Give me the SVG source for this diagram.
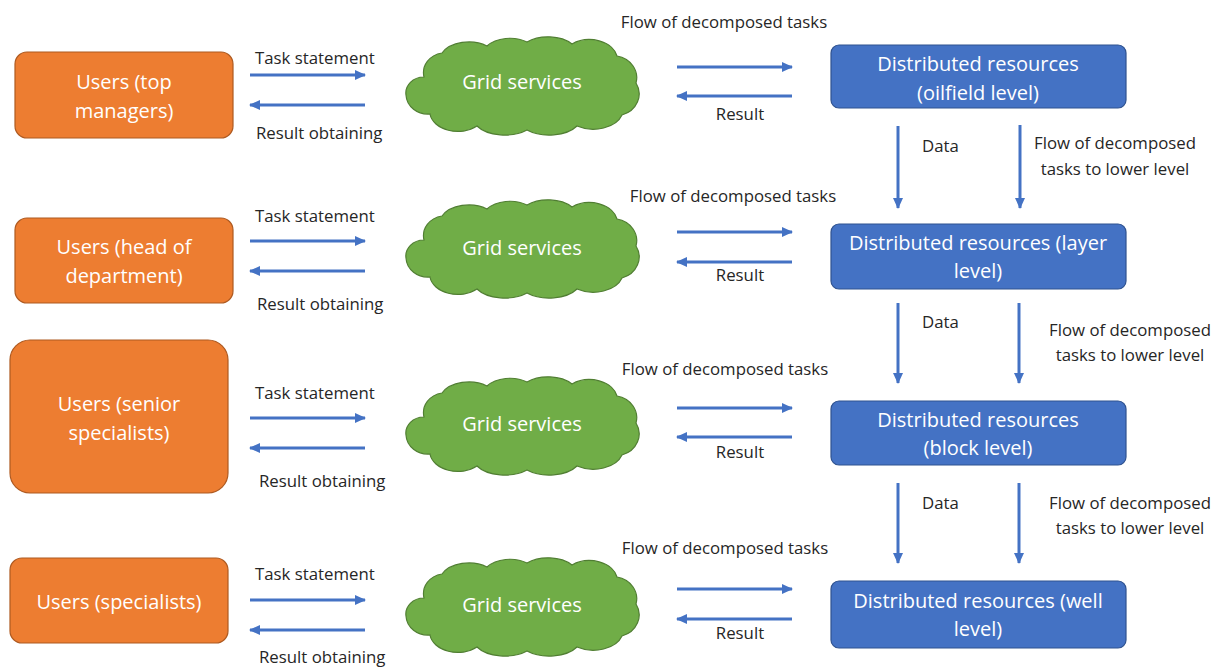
<svg xmlns="http://www.w3.org/2000/svg" width="1228" height="668" viewBox="0 0 1228 668">
<style>
.user{fill:#ED7D31;stroke:#AE5A21;stroke-width:1.2}
.res{fill:#4472C4;stroke:#2F528F;stroke-width:1.2}
.cloud{fill:#70AD47;stroke:#507E32;stroke-width:1.2}
.bt{font-family:"Open Sans","Liberation Sans",sans-serif;font-size:20px;fill:#FFFFFF;text-anchor:middle}
.lb{font-family:"Open Sans","Liberation Sans",sans-serif;font-size:16.8px;fill:#262626}
.mid{text-anchor:middle}
.ar{stroke:#4472C4;stroke-width:3;fill:none;marker-end:url(#ah)}
</style>
<defs>
<marker id="ah" markerUnits="userSpaceOnUse" markerWidth="12" markerHeight="12" refX="10" refY="5" orient="auto" viewBox="0 0 12 10">
<path d="M0,0 L11,5 L0,10 Z" fill="#4472C4"/>
</marker>
<path id="cl" d="M -98,-8 A 22,20 0 0 1 -80,-32 A 30,20 0 0 1 -35,-39 A 28,18 0 0 1 5,-43 A 30,18 0 0 1 50,-41 A 28,20 0 0 1 95,-29 A 24,22 0 0 1 114,-2 A 24,22 0 0 1 100,30 A 30,20 0 0 1 55,41 A 32,18 0 0 1 5,45 A 32,18 0 0 1 -45,41 A 28,20 0 0 1 -92,29 A 22,20 0 0 1 -116,10 A 18,16 0 0 1 -98,-8 Z"/>
</defs>

<g id="users-top">
<rect class="user" x="15" y="52" width="218" height="86" rx="12"/>
<text class="bt" x="124" y="89">Users (top</text>
<text class="bt" x="124" y="118">managers)</text>
</g>
<g id="users-head">
<rect class="user" x="15" y="218" width="218" height="85" rx="12"/>
<text class="bt" x="124" y="254">Users (head of</text>
<text class="bt" x="124" y="283">department)</text>
</g>
<g id="users-senior">
<rect class="user" x="10" y="340" width="218" height="153" rx="20"/>
<text class="bt" x="119" y="411">Users (senior</text>
<text class="bt" x="119" y="440">specialists)</text>
</g>
<g id="users-spec">
<rect class="user" x="10" y="558" width="218" height="85" rx="12"/>
<text class="bt" x="119" y="609">Users (specialists)</text>
</g>

<g id="grid-1"><use href="#cl" class="cloud" transform="translate(522,85)"/><text class="bt" x="522" y="89">Grid services</text></g>
<g id="grid-2"><use href="#cl" class="cloud" transform="translate(522,248)"/><text class="bt" x="522" y="255">Grid services</text></g>
<g id="grid-3"><use href="#cl" class="cloud" transform="translate(522,425)"/><text class="bt" x="522" y="431">Grid services</text></g>
<g id="grid-4"><use href="#cl" class="cloud" transform="translate(522,606)"/><text class="bt" x="522" y="612">Grid services</text></g>

<g id="res-oilfield">
<rect class="res" x="831" y="45" width="295" height="63" rx="8"/>
<text class="bt" x="978" y="71">Distributed resources</text>
<text class="bt" x="978" y="100">(oilfield level)</text>
</g>
<g id="res-layer">
<rect class="res" x="831" y="224" width="295" height="65" rx="8"/>
<text class="bt" x="978" y="250">Distributed resources (layer</text>
<text class="bt" x="978" y="278">level)</text>
</g>
<g id="res-block">
<rect class="res" x="831" y="401" width="295" height="64" rx="8"/>
<text class="bt" x="978" y="427">Distributed resources</text>
<text class="bt" x="978" y="455">(block level)</text>
</g>
<g id="res-well">
<rect class="res" x="831" y="581" width="295" height="67" rx="8"/>
<text class="bt" x="978" y="608">Distributed resources (well</text>
<text class="bt" x="978" y="636">level)</text>
</g>

<g id="connectors">
<line class="ar" x1="250" y1="75" x2="365" y2="75"/>
<line class="ar" x1="365" y1="105" x2="250" y2="105"/>
<line class="ar" x1="250" y1="241" x2="365" y2="241"/>
<line class="ar" x1="365" y1="271" x2="250" y2="271"/>
<line class="ar" x1="250" y1="418" x2="365" y2="418"/>
<line class="ar" x1="365" y1="448" x2="250" y2="448"/>
<line class="ar" x1="250" y1="600" x2="365" y2="600"/>
<line class="ar" x1="365" y1="630" x2="250" y2="630"/>

<line class="ar" x1="677" y1="67" x2="792" y2="67"/>
<line class="ar" x1="792" y1="96" x2="677" y2="96"/>
<line class="ar" x1="677" y1="232" x2="792" y2="232"/>
<line class="ar" x1="792" y1="262" x2="677" y2="262"/>
<line class="ar" x1="677" y1="408" x2="792" y2="408"/>
<line class="ar" x1="792" y1="437" x2="677" y2="437"/>
<line class="ar" x1="677" y1="589" x2="792" y2="589"/>
<line class="ar" x1="792" y1="619" x2="677" y2="619"/>

<line class="ar" x1="898" y1="126" x2="898" y2="208"/>
<line class="ar" x1="1020" y1="125" x2="1020" y2="208"/>
<line class="ar" x1="898" y1="303" x2="898" y2="383"/>
<line class="ar" x1="1019" y1="303" x2="1019" y2="383"/>
<line class="ar" x1="898" y1="483" x2="898" y2="563"/>
<line class="ar" x1="1019" y1="483" x2="1019" y2="563"/>
</g>

<g id="labels">
<text class="lb" x="255" y="64">Task statement</text>
<text class="lb" x="256" y="139">Result obtaining</text>
<text class="lb" x="255" y="222">Task statement</text>
<text class="lb" x="257" y="310">Result obtaining</text>
<text class="lb" x="255" y="399">Task statement</text>
<text class="lb" x="259" y="487">Result obtaining</text>
<text class="lb" x="255" y="580">Task statement</text>
<text class="lb" x="259" y="663">Result obtaining</text>

<text class="lb mid" x="724" y="28">Flow of decomposed tasks</text>
<text class="lb mid" x="740" y="120">Result</text>
<text class="lb mid" x="733" y="202">Flow of decomposed tasks</text>
<text class="lb mid" x="740" y="281">Result</text>
<text class="lb mid" x="725" y="375">Flow of decomposed tasks</text>
<text class="lb mid" x="740" y="458">Result</text>
<text class="lb mid" x="725" y="554">Flow of decomposed tasks</text>
<text class="lb mid" x="740" y="639">Result</text>

<text class="lb" x="922" y="152">Data</text>
<text class="lb mid" x="1115" y="149">Flow of decomposed</text>
<text class="lb mid" x="1115" y="175">tasks to lower level</text>
<text class="lb" x="922" y="328">Data</text>
<text class="lb mid" x="1130" y="336">Flow of decomposed</text>
<text class="lb mid" x="1130" y="361">tasks to lower level</text>
<text class="lb" x="922" y="509">Data</text>
<text class="lb mid" x="1130" y="509">Flow of decomposed</text>
<text class="lb mid" x="1130" y="534">tasks to lower level</text>
</g>
</svg>
